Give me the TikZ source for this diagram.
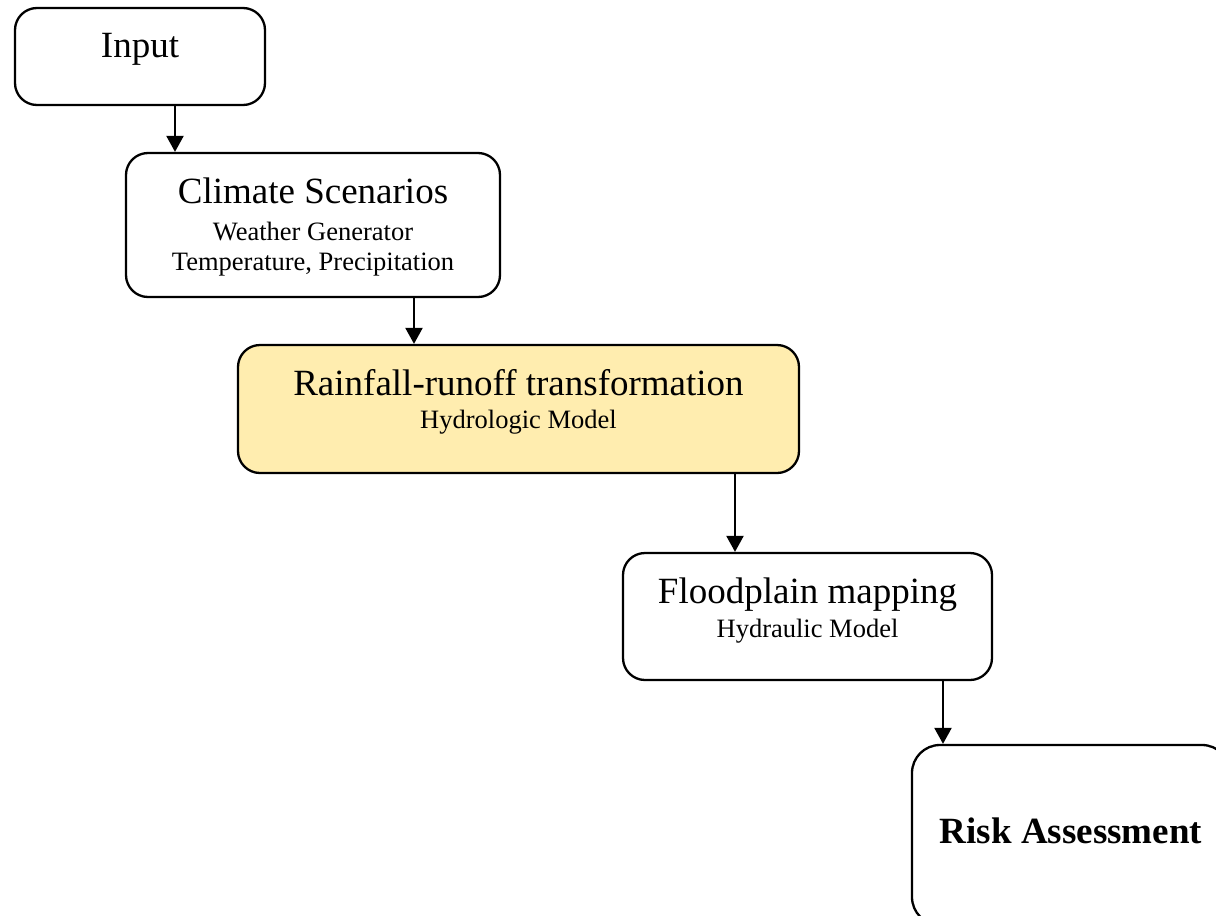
\documentclass[tikz,border=0pt]{standalone}
\usepackage{fontspec}
\setmainfont{Liberation Serif}
\usetikzlibrary{arrows.meta}
\definecolor{boxyellow}{RGB}{255,237,175}
\begin{document}
\begin{tikzpicture}[x=1pt,y=-1pt,
  box/.style={draw=black, line width=2.3pt, rounded corners=22pt, inner sep=0pt},
  big/.style={font=\fontsize{37}{40}\selectfont, anchor=base, inner sep=0pt},
  small/.style={font=\fontsize{26.5}{30}\selectfont, anchor=base, inner sep=0pt},
  arr/.style={line width=2.3pt, -{Triangle[length=16pt,width=17pt]}}]
\useasboundingbox (0,0) rectangle (1216,916);
\clip (0,0) rectangle (1216,916);
\fill[white] (0,0) rectangle (1216,916);

\node[box, minimum width=250pt, minimum height=97pt] (input) at (140,56.5) {};
\node[box, minimum width=374pt, minimum height=144pt] (climate) at (313,225) {};
\node[box, fill=boxyellow, minimum width=561pt, minimum height=128pt] (rain) at (518.5,409) {};
\node[box, minimum width=369pt, minimum height=127pt] (flood) at (807.5,616.5) {};
\node[box, rounded corners=28pt, minimum width=318pt, minimum height=180pt] (risk) at (1071,835) {};

\node[big] (inputT) at ([yshift=-51pt]input.north) {Input};
\node[big] (climT) at ([yshift=-52pt]climate.north) {Climate Scenarios};
\node[small] (climA) at ([yshift=-89pt]climate.north) {Weather Generator};
\node[small] (climB) at ([yshift=-119pt]climate.north) {Temperature, Precipitation};
\node[big] (rainT) at ([yshift=-52pt]rain.north) {Rainfall-runoff transformation};
\node[small] (rainA) at ([yshift=-85pt]rain.north) {Hydrologic Model};
\node[big] (floodT) at ([yshift=-52pt]flood.north) {Floodplain mapping};
\node[small] (floodA) at ([yshift=-86pt]flood.north) {Hydraulic Model};
\node[big, font=\fontsize{37}{40}\selectfont\bfseries] (riskT) at ([yshift=-8pt]risk.center) {Risk Assessment};

\draw[arr] ([xshift=35pt]input.south) -- ([xshift=35pt]input.south |- climate.north);
\draw[arr] ([xshift=101pt]climate.south) -- ([xshift=101pt]climate.south |- rain.north);
\draw[arr] ([xshift=216.5pt]rain.south) -- ([xshift=216.5pt]rain.south |- flood.north);
\draw[arr] ([xshift=135.5pt]flood.south) -- ([xshift=135.5pt]flood.south |- risk.north);
\end{tikzpicture}
\end{document}
